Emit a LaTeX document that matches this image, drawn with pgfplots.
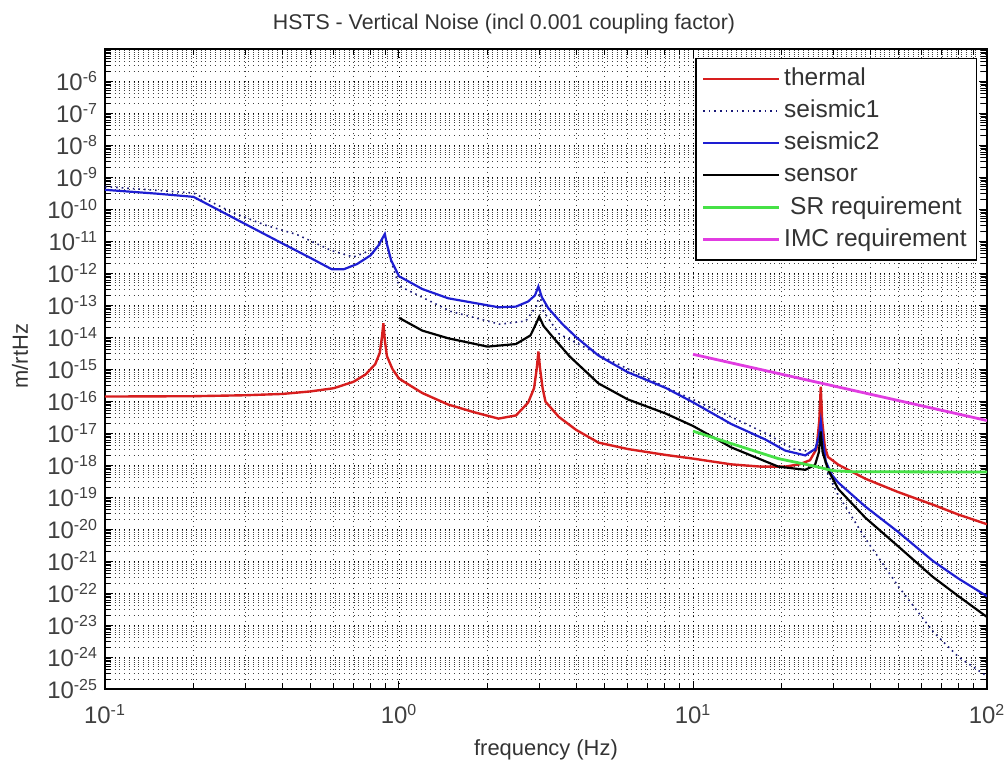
\documentclass[border=0pt]{standalone}
\usepackage{pgfplots}
\pgfplotsset{compat=1.18}
\usepackage{fontspec}
\setmainfont{Liberation Sans}

\definecolor{mred}{RGB}{215,30,30}
\definecolor{mblue}{RGB}{30,30,210}
\definecolor{mnavy}{RGB}{25,25,120}
\definecolor{mgreen}{RGB}{70,225,70}
\definecolor{mmag}{RGB}{225,60,225}

% minor y ticks at 2..9 of every decade
\def\minory{}
\foreach \e in {-25,...,-6}{\foreach \m in {2,...,9}{\xdef\minory{\minory\m e\e,}}}
\xdef\minory{\minory 1e-5}

\begin{document}
\begin{tikzpicture}
\begin{axis}[
  scale only axis,
  width=441bp, height=320bp,
  xmode=log, ymode=log,
  log basis x=10, log basis y=10,
  xmin=0.1, xmax=100,
  ymin=1e-25, ymax=1e-5,
  xtick={0.1,1,10,100},
  ytick={1e-25,1e-24,1e-23,1e-22,1e-21,1e-20,1e-19,1e-18,1e-17,1e-16,1e-15,1e-14,1e-13,1e-12,1e-11,1e-10,1e-9,1e-8,1e-7,1e-6},
  minor xtick={0.2,0.3,0.4,0.5,0.6,0.7,0.8,0.9,2,3,4,5,6,7,8,9,20,30,40,50,60,70,80,90},
  minor ytick/.expanded={\minory},
  xticklabel={10\textsuperscript{\pgfmathparse{int(round(\tick))}\pgfmathresult}},
  yticklabel={10\textsuperscript{\pgfmathparse{int(round(\tick))}\pgfmathresult}},
  tick label style={font=\fontsize{12}{14}\selectfont, text=black!75},
  xticklabel style={yshift=-4bp},
  grid=both,
  major grid style={black, dotted, line width=0.4pt},
  minor grid style={black!75, dotted, line width=0.35pt},
  tick style={black, line width=0.5pt},
  axis line style={black, line width=0.8pt},
  title={HSTS - Vertical Noise (incl 0.001 coupling factor)},
  title style={at={(0.5,1)}, anchor=center, yshift=6.5bp, xshift=-21bp,
    font=\fontsize{10.7}{12}\selectfont, text=black!80},
  xlabel={frequency (Hz)},
  xlabel style={at={(0.5,0)}, anchor=center, yshift=-30.5bp,
    font=\fontsize{11}{13}\selectfont, text=black!80},
  ylabel={m/rtHz},
  ylabel style={at={(0,0.52)}, anchor=center, yshift=42.5bp,
    font=\fontsize{11}{13}\selectfont, text=black!80},
  legend cell align=left,
  legend style={at={(1,1)}, anchor=north east, xshift=-5bp, yshift=-4.5bp,
    font=\fontsize{12.3}{14}\selectfont, fill=white, draw=black, line width=0.7pt,
    text=black!80,
    nodes={text height=9.5bp, text depth=3bp, inner sep=1.8bp}},
  legend image code/.code={\draw[#1] (0bp,0bp) -- (38bp,0bp);},
]

% thermal
\addplot[mred, line width=1.2pt] coordinates {
 (0.1,1.380e-16) (0.2,1.413e-16) (0.3,1.514e-16) (0.4,1.660e-16)
 (0.5,1.995e-16) (0.6,2.512e-16) (0.7,3.981e-16) (0.77,6.761e-16)
 (0.83,1.413e-15) (0.86,3.162e-15) (0.875,1e-14) (0.885,2.692e-14)
 (0.895,7.943e-15) (0.91,2.512e-15) (0.95,1e-15) (1.0,5.012e-16)
 (1.2,1.778e-16) (1.47,7.762e-17) (1.8,4.467e-17) (2.18,2.818e-17)
 (2.5,3.548e-17) (2.75,8.913e-17) (2.88,2.512e-16) (2.94,1e-15)
 (2.98,3.548e-15) (3.02,1e-15) (3.08,2.512e-16) (3.15,9.550e-17)
 (3.5,3.162e-17) (4.0,1.259e-17) (4.77,5.012e-18) (6,3.162e-18)
 (8,2.089e-18) (10,1.585e-18) (13.5,1.047e-18) (17,8.913e-19)
 (20.6,8.913e-19) (23,1.047e-18) (25,1.413e-18) (26.3,3.162e-18)
 (26.9,2.512e-17) (27.2,2.818e-16) (27.5,2.512e-17) (28.1,3.548e-18)
 (28.8,1.778e-18) (31.2,1.023e-18) (38.6,3.715e-19) (50,1.413e-19)
 (65.5,5.754e-20) (80,2.818e-20) (100,1.413e-20)
};
\addlegendentry{thermal}

% seismic1
\addplot[mnavy, dotted, line width=0.8pt] coordinates {
 (0.1,5.012e-10) (0.2,3.162e-10) (0.27,7.943e-11) (0.35,3.162e-11)
 (0.45,1.585e-11) (0.59,5.012e-12) (0.7,3.162e-12) (0.85,6.310e-12)
 (0.895,1.585e-11) (0.93,3.162e-12) (1.0,3.981e-13) (1.5,6.310e-14)
 (2.2,2.512e-14) (2.7,3.162e-14) (2.95,1e-13) (3.0,2.512e-13)
 (3.1,6.310e-14) (3.5,1.259e-14) (4.77,2.818e-15) (8,2.818e-16)
 (13.5,3.162e-17) (17.6,1e-17) (22,3.162e-18) (26,2.512e-18)
 (27.2,1.585e-17) (28.5,6.310e-19) (31,1.259e-19) (38.6,5.012e-21)
 (50,1.585e-22) (65.5,6.310e-24) (80,1e-24) (100,2.512e-25)
};
\addlegendentry{seismic1}

% seismic2
\addplot[mblue, line width=1.1pt] coordinates {
 (0.1,3.981e-10) (0.15,3.020e-10) (0.2,2.399e-10) (0.3,3.388e-11)
 (0.4,8.511e-12) (0.5,2.951e-12) (0.59,1.318e-12) (0.65,1.318e-12)
 (0.72,1.905e-12) (0.8,3.548e-12) (0.85,7.079e-12) (0.88,1.259e-11)
 (0.895,1.660e-11) (0.91,7.943e-12) (0.94,2.512e-12) (1.0,7.943e-13)
 (1.2,3.162e-13) (1.47,1.622e-13) (2.18,8.511e-14) (2.5,8.913e-14)
 (2.75,1.288e-13) (2.9,1.995e-13) (2.98,3.802e-13) (3.06,1.778e-13)
 (3.22,7.943e-14) (3.6,2.512e-14) (4.0,1e-14) (4.77,2.630e-15)
 (6,7.943e-16) (8.07,2.570e-16) (10,9.120e-17) (13.5,1.905e-17)
 (17.6,6.310e-18) (20.6,2.818e-18) (24.1,1.995e-18) (26.1,3.236e-18)
 (26.8,7.943e-18) (27.2,2.291e-17) (27.7,5.012e-18) (28.3,1.288e-18)
 (29.6,5.012e-19) (31.2,2.818e-19) (38.6,5.012e-20) (50,7.943e-21)
 (65.5,1e-21) (80,2.818e-22) (100,7.943e-23)
};
\addlegendentry{seismic2}

% sensor
\addplot[black, line width=1.1pt] coordinates {
 (1.0,3.981e-14) (1.2,1.585e-14) (1.47,9.120e-15) (2.0,5.012e-15)
 (2.5,6.026e-15) (2.8,1.122e-14) (2.92,2.512e-14) (3.0,4.365e-14)
 (3.1,2.239e-14) (3.3,1.122e-14) (3.8,2.512e-15) (4.77,3.548e-16)
 (6,1.122e-16) (8.07,4.074e-17) (10,1.660e-17) (13.5,3.548e-18)
 (19.5,8.913e-19) (24.1,7.079e-19) (26,1e-18) (26.8,2.512e-18)
 (27.2,1.122e-17) (27.6,2.512e-18) (28.8,7.079e-19) (31.2,1.778e-19)
 (38.6,2.239e-20) (50,2.818e-21) (65.5,3.162e-22) (80,7.943e-23)
 (100,1.778e-23)
};
\addlegendentry{sensor}

% SR requirement
\addplot[mgreen, line width=1.4pt] coordinates {
 (10,1.148e-17) (13.5,4.677e-18) (19.5,1.585e-18) (25.4,9.550e-19)
 (30,6.607e-19) (35,6.166e-19) (100,6.026e-19)
};
\addlegendentry{\hspace{3bp}SR requirement}

% IMC requirement
\addplot[mmag, line width=1.4pt] coordinates {
 (10,2.884e-15) (100,2.455e-17)
};
\addlegendentry{IMC requirement}

\end{axis}
\pgfresetboundingbox
\path ([shift={(-52.5bp,-41bp)}]current axis.south west)
  rectangle ([shift={(9bp,24.5bp)}]current axis.north east);
\end{tikzpicture}
\end{document}
